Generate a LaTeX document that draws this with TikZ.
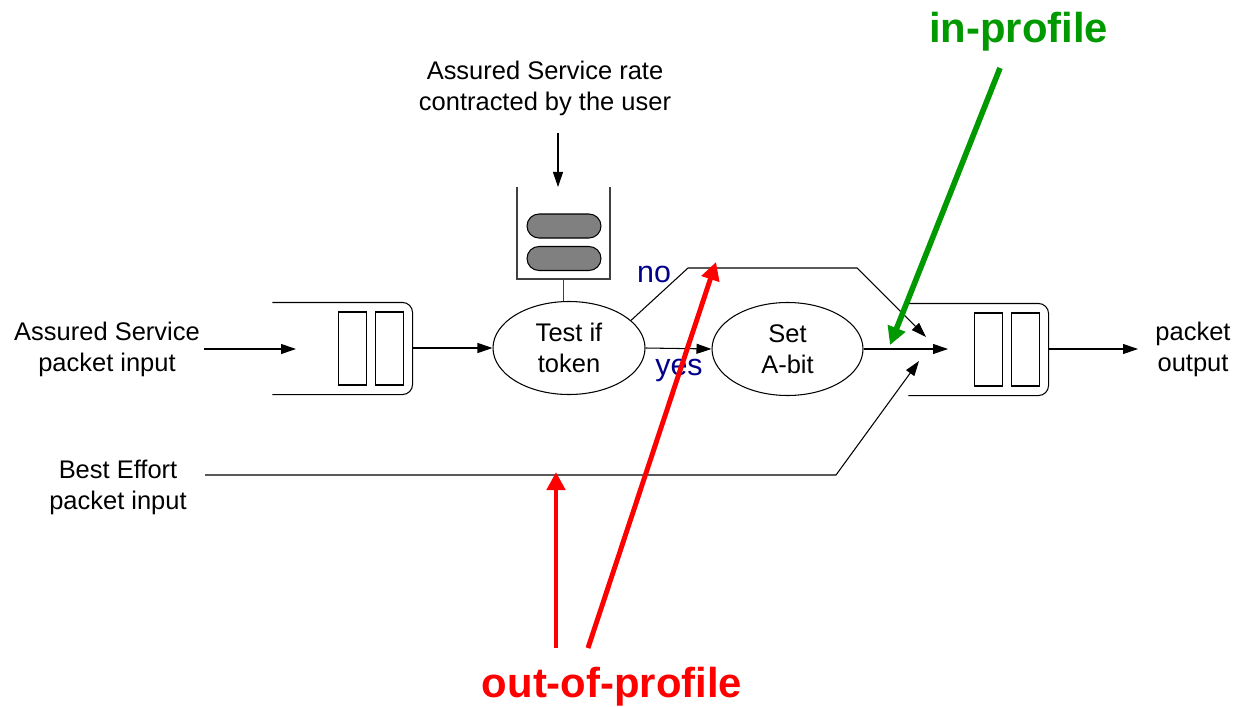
\documentclass[tikz,border=0pt]{standalone}
\usepackage{fontspec}
\setmainfont{Liberation Sans}
\usepackage{tikz}
\usepackage{color}
\usetikzlibrary{shapes.geometric,arrows.meta}
\definecolor{outred}{RGB}{255,0,0}
\definecolor{ingreen}{RGB}{0,153,0}
\definecolor{answer}{RGB}{0,0,139}
\definecolor{tokengray}{RGB}{128,128,128}
\definecolor{bucketgray}{RGB}{64,64,64}
\newcommand{\tikzQueueNode}[2]{
  \node[inner sep=0pt,minimum width=2.78cm,minimum height=1.82cm] (#1) at (#2) {};
  \draw[rounded corners=0.2cm] (#1.north west) -- (#1.north east) -- (#1.south east) -- (#1.south west);
  \draw (#1.east) ++(-1.48,0.73) rectangle ++(0.56,-1.46);
  \draw (#1.east) ++(-0.74,0.73) rectangle ++(0.56,-1.46);
}
\tikzset{
  txt/.style={align=center,font=\fontsize{14.5}{17.6}\selectfont},
  flow/.style={-{Triangle[length=0.3cm,width=0.2cm]}},
  hint/.style={-{Triangle[length=0.36cm,width=0.36cm]},line width=2.8pt},
  token/.style={draw,fill=tokengray,rounded corners=0.24cm,inner sep=0pt,minimum width=1.48cm,minimum height=0.48cm}
}

\begin{document}
\begin{tikzpicture}[semithick]
  \useasboundingbox (0,0) rectangle (24.72,-14.12);

  % token bucket
  \node[txt] (ratetext) at (10.9,-1.76) {Assured Service rate\\contracted by the user};
  \coordinate (ratein) at (11.16,-2.66);
  \coordinate (ratetop) at (11.16,-3.74);
  \draw[flow] (ratein) -- (ratetop);
  \draw[bucketgray] (10.34,-3.74) |- (12.2,-5.58) -- (12.2,-3.74);
  \coordinate (bucket) at (11.27,-5.58);
  \node[token] (tok1) at (11.28,-4.52) {};
  \node[token] (tok2) at (11.28,-5.17) {};

  % queues and stages
  \tikzQueueNode{inq}{6.85,-6.97}
  \tikzQueueNode{outq}{19.57,-6.99}
  \node [draw,ellipse,txt,inner sep=0pt,minimum width=3.04cm,minimum height=1.86cm] (test) at (11.38,-6.96) {Test if\\token};
  \node [draw,ellipse,txt,inner sep=0pt,minimum width=3.02cm,minimum height=1.86cm] (seta) at (15.75,-6.98) {Set\\A-bit};
  \draw[bucketgray] (bucket) -- (bucket |- test.north);

  \node[txt] (astext) at (2.14,-6.98) {Assured Service\\packet input};
  \node[txt] (betext) at (2.36,-9.74) {Best Effort\\packet input};
  \node[txt] (outtext) at (23.86,-6.98) {packet\\output};

  \coordinate (asin) at (4.08,-6.98);
  \coordinate (astip) at (5.92,-6.98);
  \coordinate (bein) at (4.1,-9.5);
  \coordinate (mergeup) at (18.52,-6.74);
  \coordinate (mergemid) at (18.96,-6.98);
  \coordinate (mergelow) at (18.38,-7.22);
  \coordinate (pktout) at (22.76,-6.98);

  \draw[flow] (asin) -- (astip);
  \draw[flow] (inq.east |- test.west) -- (test.west);
  \draw[flow] (test.east) -- (seta.west);
  \draw[flow] (test.24) -- (13.76,-5.36) -- (17.14,-5.36) -- (mergeup);
  \draw[flow] (seta.east) -- (mergemid);
  \draw[flow] (bein) -- (16.72,-9.5) -- (mergelow);
  \draw[flow] (outq.east |- pktout) -- (pktout);

  \node[text=answer,font=\fontsize{17.3}{20}\selectfont] (no) at (13.08,-5.48) {no};
  \node[text=answer,font=\fontsize{17.3}{20}\selectfont] (yes) at (13.58,-7.4) {yes};

  % profile hints
  \node[text=ingreen,font=\fontsize{23.8}{28}\selectfont\bfseries] (inprof) at (20.37,-0.64) {in-profile};
  \node[text=outred,font=\fontsize{23.8}{28}\selectfont\bfseries,anchor=base] (outprof) at (12.24,-13.94) {out-of-profile};
  \coordinate (ingo) at (20,-1.36);
  \coordinate (inhit) at (17.8,-6.9);
  \coordinate (outgo1) at (11.12,-12.96);
  \coordinate (outhit1) at (11.12,-9.44);
  \coordinate (outgo2) at (11.76,-12.96);
  \coordinate (outhit2) at (14.32,-5.24);
  \draw[hint,color=ingreen,line width=3.2pt] (ingo) -- (inhit);
  \draw[hint,color=outred] (outgo1) -- (outhit1);
  \draw[hint,color=outred] (outgo2) -- (outhit2);
\end{tikzpicture}
\end{document}
